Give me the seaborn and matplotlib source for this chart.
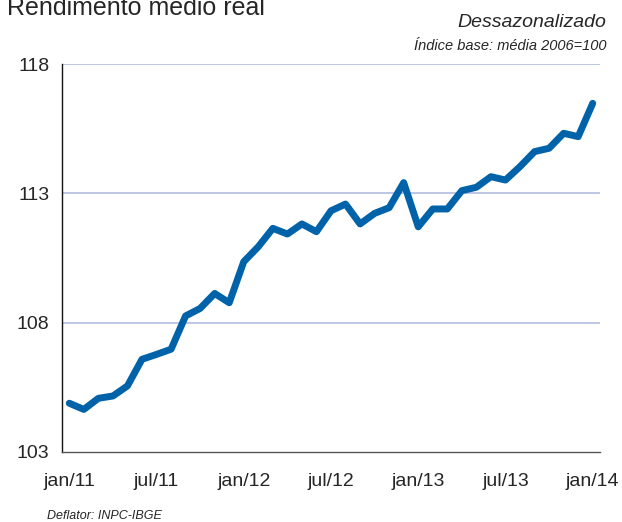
import matplotlib
matplotlib.use("Agg")
import matplotlib.pyplot as plt
from matplotlib import font_manager
import seaborn as sns
import pandas as pd
import numpy as np

months = ["jan/11","fev/11","mar/11","abr/11","mai/11","jun/11","jul/11","ago/11","set/11","out/11","nov/11","dez/11",
          "jan/12","fev/12","mar/12","abr/12","mai/12","jun/12","jul/12","ago/12","set/12","out/12","nov/12","dez/12",
          "jan/13","fev/13","mar/13","abr/13","mai/13","jun/13","jul/13","ago/13","set/13","out/13","nov/13","dez/13",
          "jan/14"]
values = [104.88, 104.64, 105.07, 105.16, 105.55, 106.58, 106.77, 106.97, 108.26, 108.55, 109.13, 108.77,
          110.36, 110.94, 111.65, 111.43, 111.82, 111.52, 112.33, 112.59, 111.82, 112.23, 112.45, 113.42,
          111.71, 112.40, 112.40, 113.11, 113.24, 113.65, 113.52, 114.04, 114.62, 114.75, 115.33, 115.20,
          116.49]
tick_labels = ["jan/11", "jul/11", "jan/12", "jul/12", "jan/13", "jul/13", "jan/14"]
y_ticks = [103, 108, 113, 118]

sns.set_style("white")
avail = {f.name for f in font_manager.fontManager.ttflist}
fam = "Liberation Sans Narrow" if "Liberation Sans Narrow" in avail else "Liberation Sans"
plt.rcParams["font.family"] = [fam, "DejaVu Sans"]

df = pd.DataFrame({"idx": np.arange(len(months)), "valor": values, "mes": months})

fig = plt.figure(figsize=(6.22, 5.22), dpi=100)
ax = fig.add_axes([0.0997, 0.1345, 0.8649, 0.7423])

sns.lineplot(data=df, x="idx", y="valor", ax=ax, color="#0063AA", linewidth=5.0)
for ln in ax.lines:
    ln.set_solid_capstyle("round")
    ln.set_solid_joinstyle("round")

ax.set_xlim(-0.5, len(months) - 0.5)
ax.set_ylim(103, 118)
ax.set_yticks(y_ticks)
ax.set_yticklabels([str(v) for v in y_ticks], fontsize=14)
for v in y_ticks[1:]:
    ax.axhline(v, color="#b3bce3", linewidth=1.2, zorder=0)

lab_pos = [months.index(t) for t in tick_labels]
ax.set_xticks([p - 0.5 for p in lab_pos])
ax.set_xticklabels([])
ax.set_xticks(lab_pos, minor=True)
ax.set_xticklabels(tick_labels, minor=True, fontsize=14)
ax.tick_params(axis="x", which="major", direction="in", length=4, width=1, color="#333333")
ax.tick_params(axis="x", which="minor", length=0, pad=15)
ax.tick_params(axis="y", direction="out", length=5, width=1, color="#222222", pad=4)
ax.set_xlabel("")
ax.set_ylabel("")

for s in ["top", "right"]:
    ax.spines[s].set_visible(False)
ax.spines["left"].set_color("#111111")
ax.spines["left"].set_linewidth(1.0)
ax.spines["bottom"].set_color("#555555")
ax.spines["bottom"].set_linewidth(1.0)

fig.text(0.012, 0.985, "Rendimento médio real", fontsize=18, ha="left", va="center")
fig.text(0.975, 0.957, "Dessazonalizado", fontsize=14, style="italic", ha="right", va="center")
fig.text(0.975, 0.911, "Índice base: média 2006=100", fontsize=10.5, style="italic", ha="right", va="center")
fig.text(0.076, 0.012, "Deflator: INPC-IBGE", fontsize=9, style="italic", ha="left", va="center")

fig.savefig("out.png", dpi=100)
